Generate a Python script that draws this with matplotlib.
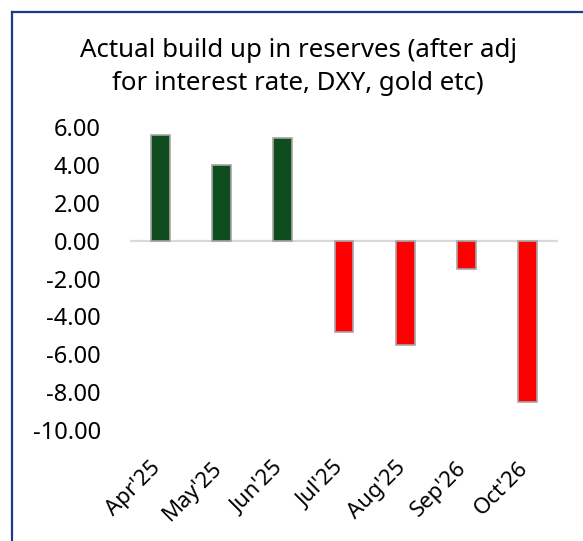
import matplotlib
matplotlib.use("Agg")
import matplotlib.pyplot as plt
from matplotlib.lines import Line2D
from matplotlib.transforms import ScaledTranslation

months = ["Apr'25", "May'25", "Jun'25", "Jul'25", "Aug'25", "Sep'26", "Oct'26"]
build_up = [5.6, 4.0, 5.4, -4.8, -5.5, -1.5, -8.5]
y_ticks = [6, 4, 2, 0, -2, -4, -6, -8, -10]
title_lines = ["Actual build up in reserves (after adj", "for interest rate, DXY, gold etc)"]

POS = "#0F4D1F"
NEG = "#FF0000"

plt.rcParams["font.family"] = ["Noto Sans", "DejaVu Sans"]

W, H, DPI = 583, 541, 100
fig = plt.figure(figsize=(W / DPI, H / DPI), dpi=DPI)
fig.patch.set_facecolor("white")

ax = fig.add_axes([130 / W, 1 - 430 / H, (558 - 130) / W, (430 - 127) / H])

x = list(range(len(months)))
colors = [POS if v >= 0 else NEG for v in build_up]
ax.bar(x, build_up, width=0.31, color=colors, edgecolor="#A6A6A6", linewidth=1.2, zorder=2)
ax.axhline(0, color="#D9D9D9", linewidth=1.6, zorder=1)

ax.set_xlim(-0.5, len(months) - 0.5)
ax.set_ylim(-10, 6)
ax.set_yticks(y_ticks)
ax.set_yticklabels([f"{v:.2f}" for v in y_ticks], fontsize=17)
ax.set_xticks(x)
ax.set_xticklabels(months, rotation=45, ha="right", va="center",
                   rotation_mode="anchor", fontsize=16)
ax.tick_params(axis="both", length=0)
ax.tick_params(axis="y", pad=21)
ax.tick_params(axis="x", pad=25)
shift = ScaledTranslation(-3 / DPI, 0, fig.dpi_scale_trans)
for lbl in ax.get_xticklabels():
    lbl.set_transform(lbl.get_transform() + shift)
for s in ax.spines.values():
    s.set_visible(False)

for i, line in enumerate(title_lines):
    fig.text(298 / W, 1 - (57 + 33 * i) / H, line, ha="center", va="baseline", fontsize=18.6)

# frame on the left and top edges
border = "#1F3A8A"
fig.add_artist(Line2D([12 / W, 12 / W], [0, 1 - 12 / H], color=border, linewidth=1.6,
                      transform=fig.transFigure))
fig.add_artist(Line2D([12 / W, 1], [1 - 12 / H, 1 - 12 / H], color=border, linewidth=1.6,
                      transform=fig.transFigure))

fig.savefig("out.png", dpi=DPI)
